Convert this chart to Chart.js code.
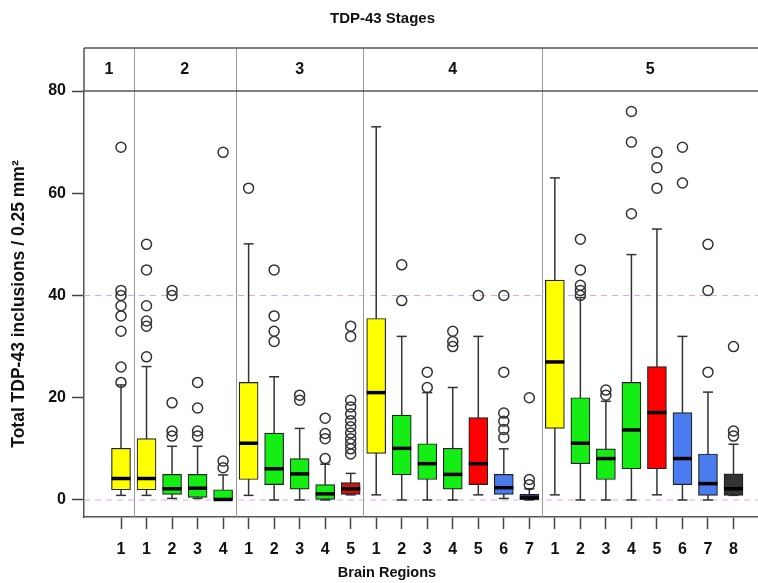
<!DOCTYPE html>
<html><head><meta charset="utf-8">
<script src="https://cdn.jsdelivr.net/npm/chart.js@4.4.1/dist/chart.umd.min.js"></script>
<style>html,body{margin:0;padding:0;background:#fff;overflow:hidden}</style>
</head><body>
<canvas id="c" width="765" height="583"></canvas>
<script>
const chartTitle = 'TDP-43 Stages';
const xTitle = 'Brain Regions';
const yTitle = 'Total TDP-43 inclusions / 0.25 mm²';
const stageLabels = ['1', '2', '3', '4', '5'];
const stageSizes = [1, 4, 5, 7, 8];
const regionLabels = ['1', '1','2','3','4', '1','2','3','4','5', '1','2','3','4','5','6','7', '1','2','3','4','5','6','7','8'];
const yTickValues = [0, 20, 40, 60, 80];
const refLineValues = [0, 40];

const whiskerLow  = [0.9, 0.9,0.3,0.3,0, 0.9,0,0,0,1.0, 1.0,0,0,0,1.0,0.3,0, 1.0,0,0,0,1.0,0,0,0.9];
const q1          = [2.0, 2.0,1.1,0.5,0, 4.0,3.0,2.1,0,1.1, 9.1,4.9,4.0,2.1,3.0,1.1,0, 14.0,7.1,4.0,6.1,6.1,3.0,0.9,0.9];
const median      = [4.2, 4.2,2.2,2.3,0.1, 11.1,6.1,5.1,1.2,2.2, 21.0,10.1,7.1,5.0,7.1,2.4,0.4, 27.0,11.1,8.1,13.7,17.1,8.1,3.2,2.2];
const q3          = [10.1, 12.0,5.0,5.0,2.0, 23.0,13.1,8.1,3.0,3.4, 35.5,16.6,11.0,10.1,16.1,5.0,1.1, 43.0,20.0,10.0,23.0,26.1,17.1,9.0,5.1];
const whiskerHigh = [22.5, 26.1,10.5,10.5,4.9, 50.1,24.1,14.0,7.0,5.2, 73.0,32.0,21.0,22.0,32.0,10.0,2.2, 63.0,39.6,19.3,48.0,53.0,32.0,21.1,10.9];
const outliers = [
  [69, 41, 40, 38, 36, 33, 26, 23],
  [50, 45, 38, 35, 34, 28],
  [41, 40, 19, 13.5, 12.5],
  [23, 18, 13.5, 12.5],
  [68, 7.6, 6.3],
  [61],
  [45, 36, 33, 31],
  [20.5, 19.5],
  [16, 13, 12, 8.1],
  [34, 32, 19.5, 18.2, 16.8, 15.5, 14.3, 13.1, 12, 11, 10, 9],
  [],
  [46, 39],
  [25, 22],
  [33, 31, 30],
  [40],
  [40, 25, 17, 15.4, 13.8, 12.2],
  [20, 4, 3],
  [],
  [51, 45, 42, 41, 40],
  [21.5, 20.5],
  [76, 70, 56],
  [68, 65, 61],
  [69, 62],
  [50, 41, 25],
  [30, 13.5, 12.5]
];
const Y = '#ffff00', G = '#14ee14', R = '#ff0000', DR = '#cc1414', B = '#4a7cf0', DB = '#2b3db8', K = '#333333';
const boxColors = [Y, Y,G,G,G, Y,G,G,G,DR, Y,G,G,G,R,B,DB, Y,G,G,G,R,B,B,K];

const positions = regionLabels.map((_, i) => i + 1);
const FONT = "'Liberation Sans', Arial, sans-serif";
const BOX_W = 19;

function line(ctx, x1, y1, x2, y2) { ctx.beginPath(); ctx.moveTo(x1, y1); ctx.lineTo(x2, y2); ctx.stroke(); }

const stageBounds = [];
{ let s = 0; stageSizes.forEach(n => { stageBounds.push([s + 0.5, s + n + 0.5]); s += n; }); }

const boxExtras = {
  id: 'boxExtras',
  beforeDatasetsDraw(chart) {
    const {ctx, chartArea: a, scales: {x, y}} = chart;
    ctx.save();
    const headTop = a.top - 43;
    ctx.strokeStyle = '#9a9a9a'; ctx.lineWidth = 1;
    stageBounds.slice(1).forEach(b => { const px = Math.round(x.getPixelForValue(b[0])) + 0.5; line(ctx, px, headTop, px, a.bottom); });
    ctx.strokeStyle = '#d9a9ea'; ctx.lineWidth = 1.2; ctx.setLineDash([6, 5]);
    refLineValues.forEach(v => { const py = y.getPixelForValue(v); line(ctx, a.left, py, a.right, py); });
    ctx.setLineDash([]);
    ctx.strokeStyle = '#333'; ctx.lineWidth = 1.5;
    positions.forEach((p, i) => {
      const px = x.getPixelForValue(p);
      const lo = y.getPixelForValue(whiskerLow[i]), hi = y.getPixelForValue(whiskerHigh[i]);
      line(ctx, px, lo, px, hi);
      line(ctx, px - 5, hi, px + 5, hi);
      line(ctx, px - 5, lo, px + 5, lo);
    });
    ctx.restore();
  },
  afterDatasetsDraw(chart) {
    const {ctx, scales: {x, y}} = chart;
    ctx.save();
    ctx.strokeStyle = '#000'; ctx.lineWidth = 3.5;
    positions.forEach((p, i) => {
      const px = x.getPixelForValue(p), py = y.getPixelForValue(median[i]);
      line(ctx, px - BOX_W / 2, py, px + BOX_W / 2, py);
    });
    ctx.restore();
  },
  afterDraw(chart) {
    const {ctx, chartArea: a, scales: {x}} = chart;
    ctx.save();
    const headTop = a.top - 43;
    ctx.strokeStyle = '#555'; ctx.lineWidth = 1.5;
    line(ctx, a.left, headTop, a.right, headTop);
    line(ctx, a.left, a.top, a.right, a.top);
    line(ctx, a.left, headTop, a.left, a.top);
    ctx.fillStyle = '#111';
    ctx.font = `bold 16px ${FONT}`;
    ctx.textAlign = 'center'; ctx.textBaseline = 'middle';
    stageBounds.forEach((b, i) => {
      const l = i === 0 ? a.left : x.getPixelForValue(b[0]);
      const r = i === stageBounds.length - 1 ? a.right : x.getPixelForValue(b[1]);
      ctx.fillText(stageLabels[i], (l + r) / 2, a.top - 21);
    });
    ctx.font = `bold 14.5px ${FONT}`;
    ctx.fillText(xTitle, a.left + 303, chart.height - 10);
    ctx.restore();
  }
};

new Chart(document.getElementById('c'), {
  type: 'bar',
  data: {
    datasets: [
      {
        type: 'scatter',
        data: outliers.flatMap((arr, i) => arr.map(v => ({x: positions[i], y: v}))),
        pointStyle: 'circle', pointRadius: 5, pointBorderWidth: 1.5,
        borderColor: '#333', backgroundColor: 'rgba(0,0,0,0)',
        order: 1
      },
      {
        type: 'bar',
        data: positions.map((p, i) => ({x: p, y: [q1[i], q3[i]]})),
        backgroundColor: boxColors,
        borderColor: '#222', borderWidth: 1.2, borderSkipped: false,
        barThickness: BOX_W, grouped: false,
        order: 2
      }
    ]
  },
  options: {
    responsive: false, animation: false, devicePixelRatio: 1,
    layout: {padding: 0},
    plugins: {
      legend: {display: false}, tooltip: {enabled: false},
      title: {display: true, text: chartTitle, color: '#111',
        font: {family: FONT, size: 15, weight: 'bold'}, padding: {top: 10, bottom: 63}}
    },
    scales: {
      x: {
        type: 'linear', min: -0.45, max: 25.98, offset: false,
        afterBuildTicks: s => { s.ticks = positions.map(v => ({value: v})); },
        afterFit: s => { s.height = 66; s.paddingLeft = 0; s.paddingRight = 0; },
        ticks: {callback: (v, i) => regionLabels[i], autoSkip: false, maxRotation: 0,
          font: {family: FONT, size: 16, weight: 'bold'}, color: '#111', padding: 11},
        grid: {offset: false, drawOnChartArea: false, tickLength: 12, color: '#444', tickWidth: 1.5},
        border: {display: true, color: '#555', width: 1.5},
        title: {display: false}
      },
      y: {
        min: -3.33, max: 80,
        afterBuildTicks: s => { s.ticks = yTickValues.map(v => ({value: v})); },
        afterFit: s => { s.width = 84; s.paddingTop = 0; s.paddingBottom = 0; },
        ticks: {font: {family: FONT, size: 16, weight: 'bold'}, color: '#111', padding: 6},
        grid: {drawOnChartArea: false, tickLength: 12, color: '#444', tickWidth: 1.5},
        border: {display: true, color: '#555', width: 1.5},
        title: {display: true, text: yTitle, color: '#111',
          font: {family: FONT, size: 17.5, weight: 'bold'}, padding: {top: 9, bottom: 0}}
      }
    }
  },
  plugins: [boxExtras]
});
</script>
</body></html>
